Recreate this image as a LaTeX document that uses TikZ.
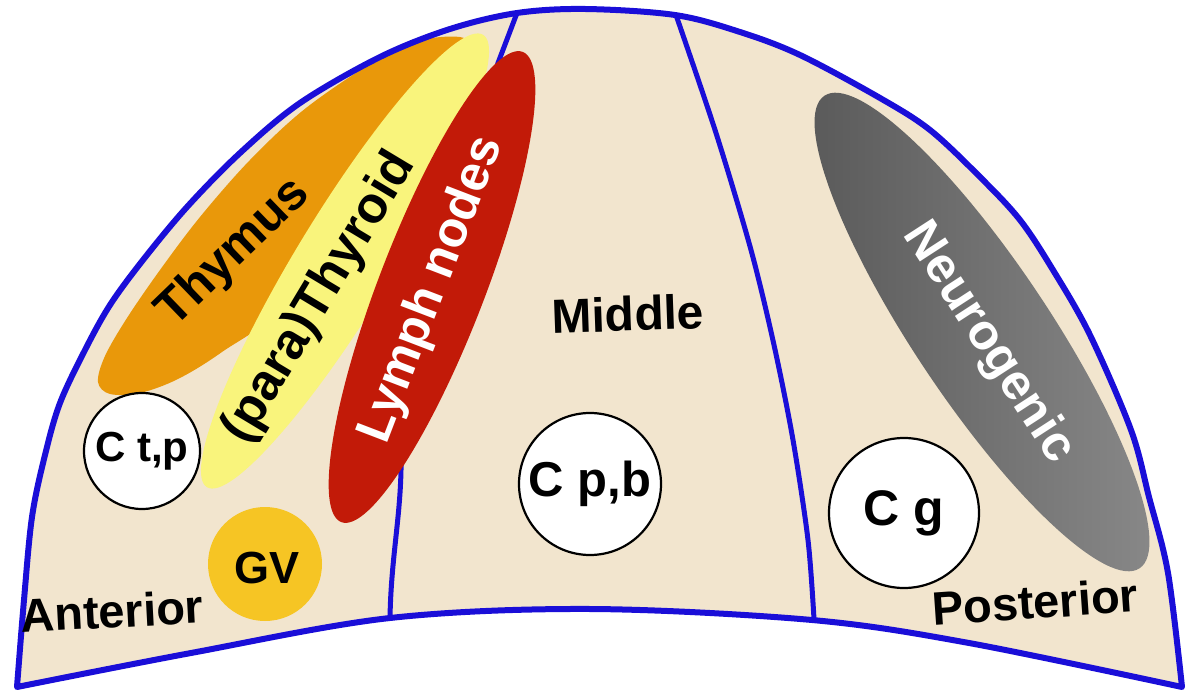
\documentclass[tikz,border=0pt]{standalone}
\usepackage{fontspec}
\setmainfont{Liberation Sans}
\usetikzlibrary{shapes.geometric}
\definecolor{dome}{HTML}{F2E5CE}
\definecolor{rim}{HTML}{1A0ED8}
\definecolor{thy}{HTML}{E9980A}
\definecolor{para}{HTML}{F9F47C}
\definecolor{lymph}{HTML}{C21A08}
\definecolor{gvc}{HTML}{F6C524}
\definecolor{neuroA}{HTML}{585858}
\definecolor{neuroB}{HTML}{8A8A8A}
\tikzset{
  rimline/.style={draw=rim, line width=6pt, line join=round},
  divider/.style={draw=rim, line width=5pt, line cap=round},
  organ/.style={ellipse, inner sep=0pt, draw=none},
  lbl/.style={font=\fontsize{50}{52}\selectfont\bfseries, inner sep=0pt},
  side/.style={font=\fontsize{47}{49}\selectfont\bfseries, inner sep=0pt},
  cyst/.style={circle, draw=black, line width=2.2pt, fill=white, inner sep=0pt},
}
\begin{document}
\begin{tikzpicture}[x=1pt,y=-1pt]
\useasboundingbox (0,0) rectangle (1186,692);
% dome fill
\fill[dome] plot[smooth, tension=0.55] coordinates {(17,687) (24,600) (32,517) (45,455) (60,403) (85,350) (110,305) (143,260) (187,207) (240,153) (300,103) (380,57) (450,29) (517,13) (585,9) (675,15) (740,32) (800,55) (880,98) (930,130) (980,177) (1020,220) (1053,270) (1090,335) (1131,430) (1149,497) (1168,573) (1182,687)}
  -- plot[smooth, tension=0.55] coordinates {(1182,687) (969,643) (812,620) (590,609) (390,618) (191,653) (17,687)} -- cycle;
% dividers
\coordinate (d1t) at (517,13);
\coordinate (d1b) at (390,618);
\coordinate (d2t) at (676,15);
\coordinate (d2b) at (814,619);
\draw[divider] (d1t) -- (498,63) .. controls (440,300) and (400,420) .. (401,470) .. controls (400,520) and (391,560) .. (d1b);
\draw[divider] plot[smooth, tension=0.5] coordinates {(676,15) (716,133) (751,250) (774,345) (793,440) (808,540) (814,619)};
% thymus
\fill[thy] plot[smooth cycle, tension=0.55] coordinates {(467,40) (420,40) (378,59) (306,108) (250,160) (200,217) (160,270) (127,318) (105,356) (98,382) (110,394) (140,393) (178,379) (222,352) (290,300) (380,170) (450,80)};
% (para)thyroid
\node[organ, fill=para, minimum width=530pt, minimum height=96pt, rotate=58.6] (paraE) at (345,261) {};
% lymph nodes
\node[organ, fill=lymph, minimum width=504pt, minimum height=106pt, rotate=68.9] (lymphE) at (432,287) {};
% neurogenic
\node[organ, left color=neuroA, right color=neuroB, minimum width=568pt, minimum height=136pt, rotate=-56.3] (neuroE) at (982,332) {};
% GV
\node[circle, fill=gvc, minimum size=114pt, inner sep=0pt] (gv) at (265,564) {};
\node[font=\fontsize{45}{47}\selectfont\bfseries, inner sep=0pt] (gvl) at (267,568) {GV};
% cysts
\node[cyst, minimum size=116pt, font=\fontsize{42}{44}\selectfont\bfseries] (ctp) at (142,451) {C t,p};
\node[cyst, minimum size=142pt, font=\fontsize{49}{51}\selectfont\bfseries] (cpb) at (590,484) {C p,b};
\node[cyst, minimum size=150pt, font=\fontsize{50}{52}\selectfont\bfseries] (cg) at (904,513) {C g};
% rim on top
\draw[rimline] plot[smooth, tension=0.55] coordinates {(17,687) (24,600) (32,517) (45,455) (60,403) (85,350) (110,305) (143,260) (187,207) (240,153) (300,103) (380,57) (450,29) (517,13) (585,9) (675,15) (740,32) (800,55) (880,98) (930,130) (980,177) (1020,220) (1053,270) (1090,335) (1131,430) (1149,497) (1168,573) (1182,687)}
  -- plot[smooth, tension=0.55] coordinates {(1182,687) (969,643) (812,620) (590,609) (390,618) (191,653) (17,687)} -- cycle;
% labels
\node[lbl, rotate=44] (thymusL) at (234,253) {Thymus};
\node[lbl, rotate=59, font=\fontsize{51}{53}\selectfont\bfseries] (paraL) at (320,298) {(para)Thyroid};
\node[lbl, rotate=69, text=white] (lymphL) at (432,290) {Lymph nodes};
\node[lbl, rotate=-57, text=white] (neuroL) at (988,343) {Neurogenic};
\node[side, font=\fontsize{48}{50}\selectfont\bfseries, rotate=2] (midL) at (628,314) {Middle};
\node[side, rotate=3] (antL) at (112,611) {Anterior};
\node[side, rotate=4] (postL) at (1035,602) {Posterior};
\end{tikzpicture}
\end{document}
